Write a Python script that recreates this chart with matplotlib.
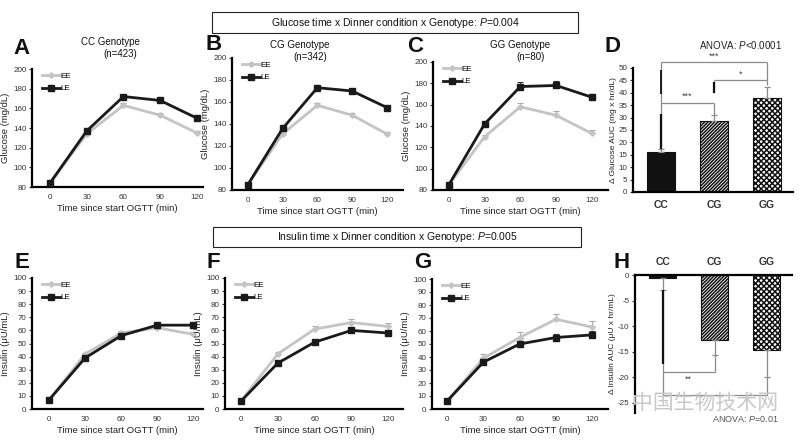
import matplotlib
matplotlib.use('Agg')
import matplotlib.pyplot as plt
from matplotlib.patches import Rectangle
import numpy as np

plt.rcParams['font.family'] = ['Liberation Sans', 'DejaVu Sans']
plt.rcParams['mathtext.fontset'] = 'custom'
plt.rcParams['mathtext.rm'] = 'Liberation Sans'
plt.rcParams['mathtext.it'] = 'Liberation Sans:italic'
plt.rcParams['hatch.linewidth'] = 1.1
plt.rcParams['axes.unicode_minus'] = False

# ---------------- data ----------------
times = [0, 30, 60, 90, 120]
time_labels = ['0', '30', '60', '90', '120']

glu_cc_ee = [84, 134, 163, 153, 135]
glu_cc_ee_err = [0.5, 1.5, 2, 2, 2]
glu_cc_le = [84, 137, 172, 168, 150]
glu_cc_le_err = [0.5, 1.5, 1.5, 1.5, 2]

glu_cg_ee = [85, 131, 157, 148, 131]
glu_cg_ee_err = [0.5, 1.5, 2, 2, 2]
glu_cg_le = [85, 136, 173, 170, 155]
glu_cg_le_err = [0.5, 1.5, 1.5, 1.5, 1.5]

glu_gg_ee = [85, 130, 158, 150, 133]
glu_gg_ee_err = [0.5, 2, 4, 4, 3]
glu_gg_le = [85, 142, 177, 178, 167]
glu_gg_le_err = [0.5, 2, 4, 4, 3]

ins_cc_ee = [7, 42, 58, 62, 57]
ins_cc_ee_err = [0.5, 1, 1.5, 1.5, 1.5]
ins_cc_le = [7, 39, 56, 64, 64]
ins_cc_le_err = [0.5, 1, 1.5, 1.5, 1.5]

ins_cg_ee = [6, 42, 61, 66, 63]
ins_cg_ee_err = [0.5, 1.5, 2, 2.5, 2.5]
ins_cg_le = [6, 35, 51, 60, 58]
ins_cg_le_err = [0.5, 1, 1, 1.5, 1.5]

ins_gg_ee = [6, 39, 55, 69, 63]
ins_gg_ee_err = [0.5, 3, 4, 4, 5]
ins_gg_le = [6, 36, 50, 55, 57]
ins_gg_le_err = [0.5, 1, 2.5, 3, 3]

genotypes = ['CC', 'CG', 'GG']
glu_auc = [16, 28.5, 38]
glu_auc_err = [1.5, 2.5, 4.5]
ins_auc = [-0.6, -12.8, -14.7]
ins_auc_err = [2.4, 2.9, 5.3]

W, H = 800, 442
fig = plt.figure(figsize=(8.0, 4.42), dpi=100)


def fx(x):
    return x / W


def fy(y):
    return 1 - y / H


def ax_px(x0, y0, x1, y1):
    return fig.add_axes([x0 / W, 1 - y1 / H, (x1 - x0) / W, (y1 - y0) / H])


EE_C = '#c4c4c4'
LE_C = '#1a1a1a'


def line_panel(ax, ee, ee_err, le, le_err, xlim, ylim, yticks, ylabel):
    z = np.zeros(len(times))
    ax.errorbar(times, ee, yerr=[z, ee_err], fmt='none', ecolor='#a8a8a8',
                elinewidth=0.8, capsize=2, capthick=0.8, zorder=2)
    ax.errorbar(times, le, yerr=[z, le_err], fmt='none', ecolor='#333333',
                elinewidth=0.8, capsize=2, capthick=0.8, zorder=2)
    ax.plot(times, ee, color=EE_C, lw=2, marker='D', ms=2.8, label='EE', zorder=3)
    ax.plot(times, le, color=LE_C, lw=2, marker='s', ms=4, label='LE', zorder=4)
    ax.set_xlim(*xlim)
    ax.set_ylim(*ylim)
    ax.set_yticks(yticks)
    ax.set_xticks(times)
    ax.set_xticklabels(time_labels)
    for s in ['top', 'right']:
        ax.spines[s].set_visible(False)
    for s in ['left', 'bottom']:
        ax.spines[s].set_linewidth(1.6)
    ax.tick_params(axis='y', labelsize=5.8, length=2, width=0.8, pad=2, colors='#333333')
    ax.tick_params(axis='x', labelsize=5.8, length=0, pad=5, colors='#333333')
    ax.set_xlabel('Time since start OGTT (min)', fontsize=6.8, labelpad=2, color='#222222')
    ax.set_ylabel(ylabel, fontsize=6.8, labelpad=2, color='#222222')
    ax.legend(loc='upper left', bbox_to_anchor=(0.04, 1.0), frameon=False,
              fontsize=5.8, handlelength=2.2, handletextpad=0.1, borderaxespad=0,
              labelspacing=0.6)


# --- Glucose panels ---
axA = ax_px(32, 69, 203, 187)
line_panel(axA, glu_cc_ee, glu_cc_ee_err, glu_cc_le, glu_cc_le_err,
           (-14.7, 125), (80, 200), range(80, 201, 20), 'Glucose (mg/dL)')
axB = ax_px(232, 58, 403, 190)
line_panel(axB, glu_cg_ee, glu_cg_ee_err, glu_cg_le, glu_cg_le_err,
           (-13.8, 134), (80, 200), range(80, 201, 20), 'Glucose (mg/dL)')
axC = ax_px(433, 62, 608, 190)
line_panel(axC, glu_gg_ee, glu_gg_ee_err, glu_gg_le, glu_gg_le_err,
           (-13.4, 133.6), (80, 200), range(80, 201, 20), 'Glucose (mg/dL)')

# --- Insulin panels ---
axE = ax_px(32, 278, 203, 409)
line_panel(axE, ins_cc_ee, ins_cc_ee_err, ins_cc_le, ins_cc_le_err,
           (-14.2, 128), (0, 100), range(0, 101, 10), 'Insulin (μU/mL)')
axF = ax_px(225, 278, 403, 409)
line_panel(axF, ins_cg_ee, ins_cg_ee_err, ins_cg_le, ins_cg_le_err,
           (-13, 132), (0, 100), range(0, 101, 10), 'Insulin (μU/mL)')
axG = ax_px(432, 279, 608, 409)
line_panel(axG, ins_gg_ee, ins_gg_ee_err, ins_gg_le, ins_gg_le_err,
           (-12.4, 133), (0, 100), range(0, 101, 10), 'Insulin (μU/mL)')

xpos = np.arange(len(genotypes))
faces = ['#111111', 'white', 'white']
hatches = [None, '//////////', 'xxxxxx']
BR = '#8a8a8a'

# --- Panel D ---
axD = ax_px(633, 68, 793, 192)
for i in range(3):
    axD.bar(xpos[i], glu_auc[i], width=0.52, color=faces[i], edgecolor='#111111',
            hatch=hatches[i], linewidth=0.8, zorder=2)
axD.errorbar(xpos, glu_auc, yerr=[np.zeros(3), glu_auc_err], fmt='none', ecolor=BR,
             elinewidth=0.9, capsize=2, capthick=0.9, zorder=3)
axD.set_xlim(-0.53, 2.49)
axD.set_ylim(0, 50)
axD.set_yticks(range(0, 51, 5))
axD.set_xticks(xpos)
axD.set_xticklabels(genotypes, fontweight='bold', fontsize=7.5, color='#333333')
for s in ['top', 'right']:
    axD.spines[s].set_visible(False)
for s in ['left', 'bottom']:
    axD.spines[s].set_linewidth(1.6)
axD.tick_params(axis='y', labelsize=5.8, length=2, width=0.8, pad=2, colors='#333333')
axD.tick_params(axis='x', length=0, pad=6)
axD.set_ylabel('Δ Glucose AUC (mg x hr/dL)', fontsize=6, labelpad=1, color='#222222')


def seg(ax, xs, ys, color=BR, lw=0.9):
    ax.plot(xs, ys, color=color, lw=lw, clip_on=False, zorder=4, solid_capstyle='butt')


# CC-CG
seg(axD, [0, 0], [17.5, 36]); seg(axD, [0, 1], [36, 36]); seg(axD, [1, 1], [31, 36])
seg(axD, [0, 0], [17.5, 31.5], color='#111111', lw=1.6)
axD.text(0.5, 36.6, '***', ha='center', va='bottom', fontsize=6.5, color='#444444')
# CG-GG
seg(axD, [1, 1], [40, 45]); seg(axD, [1, 2], [45, 45]); seg(axD, [2, 2], [43, 45])
seg(axD, [1, 1], [40, 44.5], color='#111111', lw=1.6)
axD.text(1.5, 45.6, '*', ha='center', va='bottom', fontsize=6.5, color='#444444')
# CC-GG
seg(axD, [0, 0], [36, 52.5]); seg(axD, [0, 2], [52.5, 52.5]); seg(axD, [2, 2], [45, 52.5])
seg(axD, [0, 0], [39.5, 49], color='#111111', lw=1.3)
axD.text(1.0, 52.8, '***', ha='center', va='bottom', fontsize=6.5, color='#444444')
fig.text(fx(741), fy(45), r'ANOVA: $\it{P}$<0.0001', ha='center', va='center',
         fontsize=7, color='#222222')

# --- Panel H ---
axH = ax_px(635, 275, 792, 413)
for i in range(3):
    axH.bar(xpos[i], ins_auc[i], width=0.52, color=faces[i], edgecolor='#111111',
            hatch=hatches[i], linewidth=0.8, zorder=2)
axH.errorbar(xpos, ins_auc, yerr=[ins_auc_err, np.zeros(3)], fmt='none', ecolor=BR,
             elinewidth=0.9, capsize=2, capthick=0.9, zorder=3)
axH.set_xlim(-0.53, 2.49)
axH.set_ylim(-27, 0)
axH.set_yticks(range(0, -26, -5))
axH.xaxis.tick_top()
axH.set_xticks(xpos)
axH.set_xticklabels(genotypes, fontweight='bold', fontsize=7.5, color='#333333')
for s in ['bottom', 'right']:
    axH.spines[s].set_visible(False)
for s in ['left', 'top']:
    axH.spines[s].set_linewidth(1.6)
axH.tick_params(axis='y', labelsize=5.8, length=2, width=0.8, pad=2, colors='#333333')
axH.tick_params(axis='x', length=0, pad=6)
axH.set_ylabel('Δ Insulin AUC (μU x hr/mL)', fontsize=6, labelpad=1, color='#222222')
seg(axH, [0, 0], [-3, -19]); seg(axH, [0, 1], [-19, -19]); seg(axH, [1, 1], [-15.7, -19])
seg(axH, [0, 0], [-3, -17.5], color='#111111', lw=1.6)
axH.text(0.5, -19.6, '**', ha='center', va='top', fontsize=6.5, color='#444444')
seg(axH, [0, 0], [-19, -23.5]); seg(axH, [0, 2], [-23.5, -23.5]); seg(axH, [2, 2], [-20, -23.5])

fig.text(fx(705), fy(403), '中国生物技术网', ha='center', va='center', fontsize=15,
         color='#c8c8c8', family=['Noto Sans CJK SC', 'DejaVu Sans'])
fig.text(fx(745), fy(418), r'ANOVA: $\it{P}$=0.01', ha='center', va='center',
         fontsize=6.5, color='#555555')

# --- Titles / boxes ---
fig.add_artist(Rectangle((fx(212), fy(33)), (578 - 212) / W, 21 / H, fill=False,
                         lw=0.8, edgecolor='#222222', transform=fig.transFigure))
fig.text(fx(395), fy(23), r'Glucose time x Dinner condition x Genotype: $\it{P}$=0.004',
         ha='center', va='center', fontsize=7.5, color='#111111')
fig.add_artist(Rectangle((fx(213), fy(247)), (581 - 213) / W, 20 / H, fill=False,
                         lw=0.8, edgecolor='#222222', transform=fig.transFigure))
fig.text(fx(397), fy(237), r'Insulin time x Dinner condition x Genotype: $\it{P}$=0.005',
         ha='center', va='center', fontsize=7.5, color='#111111')

sub = [('CC Genotype', '(n=423)', 110, 120, 42),
       ('CG Genotype', '(n=342)', 300, 310, 45),
       ('GG Genotype', '(n=80)', 520, 531, 45)]
for t1, t2, x1, x2, y in sub:
    fig.text(fx(x1), fy(y), t1, ha='center', va='center', fontsize=7, color='#111111')
    fig.text(fx(x2), fy(y + 12), t2, ha='center', va='center', fontsize=7, color='#111111')

letters = [('A', 21, 48), ('B', 214, 44), ('C', 415, 47), ('D', 612, 47),
           ('E', 22, 263), ('F', 213, 262), ('G', 423, 263), ('H', 622, 262)]
for L, x, y in letters:
    fig.text(fx(x), fy(y), L, ha='center', va='center', fontsize=16,
             fontweight='bold', color='#111111')

fig.savefig('out.png', dpi=100)
